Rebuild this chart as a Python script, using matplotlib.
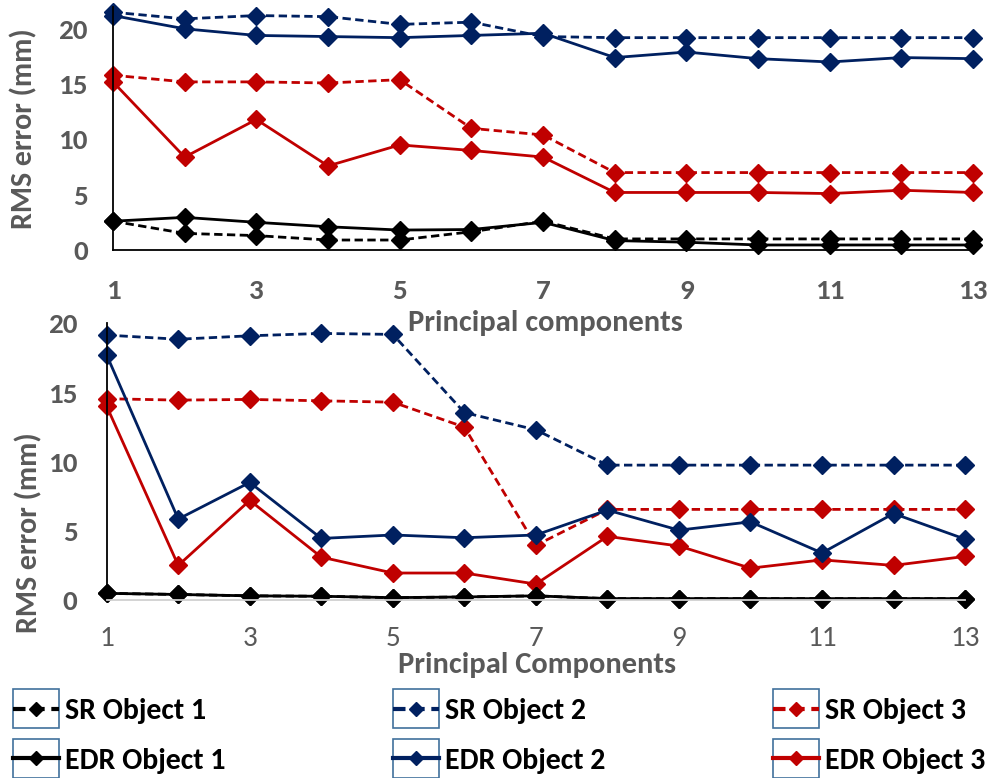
import numpy as np
import matplotlib.pyplot as plt
from matplotlib.patches import Rectangle

plt.rcParams['font.family'] = ['Carlito', 'Lato', 'DejaVu Sans']

# principal components
pcs = np.arange(1, 14)

# upper chart (RMS error, mm)
sr1_top = [2.6, 1.5, 1.3, 0.9, 0.9, 1.65, 2.6, 1.0, 1.0, 1.0, 1.0, 1.0, 1.0]
edr1_top = [2.6, 2.95, 2.5, 2.1, 1.8, 1.85, 2.5, 0.85, 0.7, 0.45, 0.45, 0.45, 0.45]
sr2_top = [21.5, 20.9, 21.2, 21.1, 20.4, 20.6, 19.3, 19.2, 19.2, 19.2, 19.2, 19.2, 19.2]
edr2_top = [21.2, 20.0, 19.4, 19.3, 19.2, 19.4, 19.6, 17.4, 17.9, 17.3, 17.0, 17.4, 17.3]
sr3_top = [15.8, 15.2, 15.2, 15.1, 15.4, 11.0, 10.4, 7.0, 7.0, 7.0, 7.0, 7.0, 7.0]
edr3_top = [15.2, 8.4, 11.8, 7.6, 9.5, 9.0, 8.4, 5.2, 5.2, 5.2, 5.1, 5.4, 5.2]

# lower chart (RMS error, mm)
sr1_bot = [0.48, 0.4, 0.3, 0.27, 0.17, 0.22, 0.3, 0.1, 0.1, 0.1, 0.1, 0.1, 0.1]
edr1_bot = [0.48, 0.4, 0.3, 0.27, 0.17, 0.22, 0.3, 0.1, 0.1, 0.1, 0.1, 0.1, 0.1]
sr2_bot = [19.15, 18.85, 19.1, 19.27, 19.2, 13.55, 12.3, 9.75, 9.75, 9.75, 9.75, 9.75, 9.75]
edr2_bot = [17.7, 5.85, 8.5, 4.45, 4.7, 4.5, 4.7, 6.5, 5.05, 5.65, 3.4, 6.25, 4.4]
sr3_bot = [14.55, 14.45, 14.5, 14.4, 14.3, 12.5, 3.95, 6.55, 6.55, 6.55, 6.55, 6.55, 6.55]
edr3_bot = [14.0, 2.5, 7.2, 3.1, 1.95, 1.95, 1.15, 4.6, 3.9, 2.3, 2.9, 2.5, 3.15]

labels = ['SR Object 1', 'EDR Object 1', 'SR Object 2', 'EDR Object 2',
          'SR Object 3', 'EDR Object 3']
colors = ['#000000', '#000000', '#002060', '#002060', '#C00000', '#C00000']
dash = (0, (3, 1.6))
styles = [dash, '-', dash, '-', dash, '-']

grey = '#595959'

fig = plt.figure(figsize=(9.91, 7.78), dpi=100)
ax1 = fig.add_axes([0.114, 0.6787, 0.868, 0.3127])
ax2 = fig.add_axes([0.1077, 0.2288, 0.8661, 0.3556])

top = [sr1_top, edr1_top, sr2_top, edr2_top, sr3_top, edr3_top]
bot = [sr1_bot, edr1_bot, sr2_bot, edr2_bot, sr3_bot, edr3_bot]

# red first, then blue, black on top
order = [4, 5, 2, 3, 0, 1]
for i in order:
    ax1.plot(pcs, top[i], color=colors[i], linestyle=styles[i], lw=2,
             marker='D', ms=9, clip_on=False, label=labels[i])
    ax2.plot(pcs, bot[i], color=colors[i], linestyle=styles[i], lw=2,
             marker='D', ms=9, clip_on=False, label=labels[i])

ax1.set_xlim(1, 13)
ax1.set_ylim(0, 22)
ax2.set_xlim(1, 13)
ax2.set_ylim(0, 20)

for ax in (ax1, ax2):
    ax.set_yticks([0, 5, 10, 15, 20])
    ax.set_xticks([1, 3, 5, 7, 9, 11, 13])
    for s in ('top', 'right'):
        ax.spines[s].set_visible(False)
    ax.spines['left'].set_color('black')
    ax.spines['left'].set_linewidth(1.3)
    ax.tick_params(length=0, colors=grey, labelsize=21)
    for t in ax.get_yticklabels():
        t.set_fontweight('bold')

ax1.tick_params(axis='y', pad=18)
ax2.tick_params(axis='y', pad=21)
ax1.spines['bottom'].set_color('black')
ax1.spines['bottom'].set_linewidth(1.3)
ax2.spines['bottom'].set_color('#d0d0d0')
ax2.spines['bottom'].set_linewidth(1.3)
for t in ax1.get_xticklabels():
    t.set_fontweight('bold')
ax1.tick_params(axis='x', pad=21)
ax2.tick_params(axis='x', pad=19)

ax1.set_ylabel('RMS error (mm)', fontsize=21.5, fontweight='bold', color=grey)
ax2.set_ylabel('RMS error (mm)', fontsize=21.5, fontweight='bold', color=grey)
ax1.yaxis.set_label_coords(-0.0884, 0.5)
ax2.yaxis.set_label_coords(-0.0754, 0.242)

fig.text(545.5 / 991, 1 - 323 / 778, 'Principal components', fontsize=22,
         fontweight='bold', color=grey, ha='center', va='center')
fig.text(536.5 / 991, 1 - 665 / 778, 'Principal Components', fontsize=22,
         fontweight='bold', color=grey, ha='center', va='center')

h, l = ax1.get_legend_handles_labels()
hmap = dict(zip(l, h))
leg = fig.legend([hmap[k] for k in labels], labels, ncol=3,
                 loc='center left', bbox_to_anchor=(13 / 991, 1 - 736 / 778),
                 frameon=False, fontsize=21.5, handlelength=1.55,
                 columnspacing=5.6, labelspacing=0.78, handletextpad=0.2,
                 borderpad=0, borderaxespad=0)
for t in leg.get_texts():
    t.set_fontweight('bold')
for hnd in leg.legend_handles:
    hnd.set_markersize(7.5)
    hnd.set_linewidth(3)

# little key boxes around the legend handles
fig.canvas.draw()
r = fig.canvas.get_renderer()
for hnd in leg.legend_handles:
    bb = hnd.get_window_extent(r)
    cx = (bb.x0 + bb.x1) / 2
    cy = (bb.y0 + bb.y1) / 2
    w, hh = 46, 39
    fig.patches.append(Rectangle(((cx - w / 2) / 991, (cy - hh / 2) / 778),
                                 w / 991, hh / 778, transform=fig.transFigure,
                                 fill=False, edgecolor='#41719c', lw=1.2,
                                 figure=fig))

fig.savefig('out.png', dpi=100)
